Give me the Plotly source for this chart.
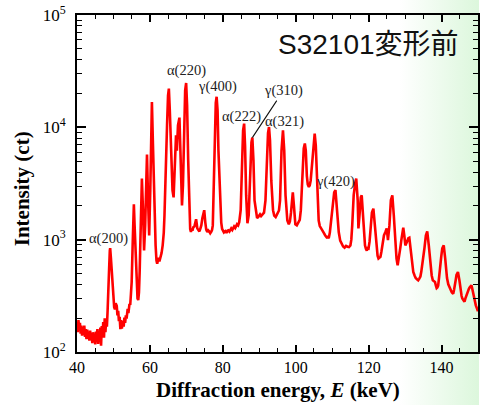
import base64
import math
import plotly.graph_objects as go

# Energy-dispersive diffraction spectrum (energy in keV, intensity in counts)
energy_kev = [
    40.0, 40.2, 40.4, 40.6, 40.8, 41.0, 41.2, 41.4, 41.6, 41.8,
    42.0, 42.2, 42.4, 42.6, 42.8, 43.0, 43.2, 43.4, 43.6, 43.8,
    44.0, 44.2, 44.4, 44.6, 44.8, 45.0, 45.2, 45.4, 45.6, 45.8,
    46.0, 46.2, 46.4, 46.6, 46.8, 47.0, 47.2, 47.4, 47.6, 47.8,
    48.0, 48.2, 48.4, 48.6, 48.8, 49.0, 49.1, 49.3, 49.6, 49.8,
    50.0, 50.2, 50.4, 50.6, 50.9, 51.1, 51.3, 51.5, 51.7, 51.9,
    52.1, 52.3, 52.6, 52.8, 53.0, 53.2, 53.4, 53.6, 53.9, 54.1,
    54.4, 54.6, 54.8, 55.0, 55.3, 55.6, 55.8, 56.1, 56.4, 56.6,
    56.8, 57.0, 57.2, 57.5, 57.8, 58.15, 58.4, 58.7, 59.0, 59.2,
    59.5, 59.8, 60.1, 60.3, 60.55, 60.8, 61.15, 61.56, 61.8, 62.0,
    62.2, 62.4, 62.6, 62.9, 63.2, 63.5, 63.8, 64.0, 64.2, 64.4,
    64.7, 64.97, 65.2, 65.46, 65.8, 66.2, 66.5, 66.75, 67.16, 67.4,
    67.7, 68.1, 68.45, 68.8, 69.07, 69.4, 69.67, 69.94, 70.2, 70.5,
    70.8, 71.05, 71.25, 71.45, 71.66, 71.9, 72.2, 72.45, 72.67, 72.85,
    73.0, 73.3, 73.57, 73.8, 74.1, 74.4, 74.66, 74.9, 75.2, 75.45,
    75.75, 76.0, 76.3, 76.55, 76.85, 77.05, 77.25, 77.5, 77.8, 78.07,
    78.3, 78.56, 78.8, 79.16, 79.57, 79.8, 79.98, 80.3, 80.67, 81.0,
    81.25, 81.5, 81.8, 82.05, 82.3, 82.6, 82.85, 83.1, 83.4, 83.65,
    83.9, 84.2, 84.5, 84.9, 85.3, 85.56, 85.85, 86.1, 86.4, 86.75,
    87.1, 87.5, 87.85, 88.1, 88.4, 88.7, 89.1, 89.4, 89.7, 89.95,
    90.2, 90.5, 90.76, 91.0, 91.3, 91.7, 92.1, 92.4, 92.67, 92.94,
    93.3, 93.77, 94.1, 94.5, 94.8, 95.1, 95.4, 95.7, 96.1, 96.5,
    96.85, 97.2, 97.7, 98.1, 98.4, 98.7, 98.97, 99.2, 99.5, 99.9,
    100.3, 100.6, 100.86, 101.1, 101.4, 101.8, 102.2, 102.5, 102.76, 103.05,
    103.3, 103.6, 103.85, 104.1, 104.5, 104.95, 105.2, 105.5, 105.9, 106.3,
    106.6, 106.9, 107.3, 107.7, 108.1, 108.5, 108.8, 109.05, 109.35, 109.6,
    110.1, 110.55, 110.9, 111.2, 111.5, 111.8, 112.2, 112.7, 113.0, 113.4,
    113.8, 114.2, 114.6, 115.0, 115.25, 115.5, 115.9, 116.3, 116.6, 117.0,
    117.2, 117.5, 117.85, 118.1, 118.4, 118.7, 119.0, 119.25, 119.5, 119.75,
    119.97, 120.25, 120.5, 120.9, 121.3, 121.7, 122.15, 122.45, 122.7, 122.95,
    123.24, 123.5, 123.8, 124.2, 124.6, 124.96, 125.3, 125.7, 126.1, 126.5,
    126.9, 127.3, 127.65, 127.96, 128.2, 128.4, 128.7, 128.97, 129.25, 129.5,
    129.8, 130.07, 130.35, 130.6, 130.9, 131.16, 131.45, 131.7, 132.0, 132.25,
    132.6, 132.9, 133.25, 133.6, 133.9, 134.2, 134.45, 134.7, 135.0, 135.3,
    135.7, 136.07, 136.5, 136.75, 137.0, 137.3, 137.6, 137.9, 138.2, 138.45,
    138.66, 138.85, 139.07, 139.35, 139.6, 139.9, 140.2, 140.6, 141.0, 141.25,
    141.5, 141.85, 142.2, 142.5, 142.8, 143.0, 143.2, 143.45, 143.7, 143.9,
    144.1, 144.5, 144.9, 145.1, 145.3, 145.5, 145.7, 146.0, 146.3, 146.55,
    146.8, 147.05, 147.3, 147.5, 147.7, 147.95, 148.2, 148.4, 148.6, 148.8,
    149.0, 149.2, 149.4, 149.7, 150.0,
]

intensity_ct = [
    175, 150, 192, 158, 182, 146, 172, 140, 166, 148,
    172, 136, 160, 130, 158, 134, 150, 126, 155, 128,
    148, 120, 150, 124, 146, 117, 152, 123, 160, 118,
    150, 126, 165, 114, 170, 138, 185, 134, 200, 150,
    195, 168, 235, 310, 540, 800, 840, 690, 480, 330,
    285, 250, 240, 272, 258, 212, 232, 188, 206, 160,
    192, 162, 188, 168, 202, 182, 212, 198, 242, 222,
    268, 262, 330, 420, 990, 2060, 1340, 650, 354, 300,
    290, 340, 530, 1650, 3500, 1650, 800, 1340, 3700, 5730,
    2240, 1090, 2750, 9400, 16800, 7700, 2240, 890, 650, 610,
    660, 690, 640, 690, 760, 890, 1150, 1650, 2500, 4140,
    10400, 19200, 22100, 14100, 5100, 2750, 2380, 3700, 8500, 6200,
    10400, 12200, 5100, 2020, 3050, 11400, 21300, 24800, 15800, 5100,
    1650, 1240, 1170, 1260, 1200, 1290, 1310, 1420, 1520, 1380,
    1260, 1220, 1185, 1240, 1340, 1560, 1740, 1830, 1420, 1230,
    1170, 1210, 1180, 1140, 1180, 1220, 1340, 3350, 9400, 16500,
    18700, 14100, 6200, 2490, 1420, 1250, 1210, 1160, 1190, 1150,
    1200, 1210, 1180, 1240, 1260, 1220, 1280, 1310, 1270, 1340,
    1370, 1340, 1430, 1830, 5100, 9400, 10800, 6900, 2490, 1400,
    1650, 3700, 7350, 8100, 5100, 2240, 1680, 1560, 1590, 1650,
    1680, 1620, 1650, 1700, 1740, 2240, 5100, 8900, 10070, 7700,
    3350, 1830, 1640, 1590, 1660, 1720, 1820, 2240, 6200, 9400,
    6200, 2490, 1480, 1370, 1450, 1740, 2490, 2640, 2020, 1370,
    1340, 1390, 1420, 1500, 1830, 3700, 6500, 7180, 6200, 3700,
    3100, 2950, 3050, 3350, 5100, 7900, 8800, 6900, 3050, 1480,
    1320, 1260, 1200, 1150, 1090, 1050, 1060, 1030, 1150, 1340,
    2020, 2640, 2760, 2020, 1500, 1170, 980, 890, 870, 850,
    880, 865, 860, 890, 1000, 1340, 2490, 3160, 3500, 2240,
    1260, 1650, 2380, 2480, 1650, 1150, 890, 830, 800, 840,
    835, 960, 1170, 1740, 1890, 1340, 835, 720, 680, 700,
    705, 780, 890, 1090, 1170, 1260, 990, 1340, 2240, 2480,
    1650, 890, 680, 590, 650, 730, 850, 990, 1150, 1280,
    1080, 890, 930, 990, 1030, 1040, 880, 730, 600, 515,
    480, 455, 445, 435, 450, 470, 520, 590, 700, 835,
    1090, 1185, 890, 700, 560, 480, 435, 430, 420, 390,
    370, 375, 390, 470, 590, 700, 835, 890, 680, 550,
    455, 400, 370, 350, 340, 335, 330, 360, 390, 440,
    485, 515, 435, 380, 340, 315, 300, 290, 280, 300,
    320, 340, 355, 365, 375, 385, 393, 370, 340, 320,
    300, 280, 260, 245, 230,
]

# Reflection labels: text, energy (keV), intensity at the label centre (ct)
label_text = ["α(200)", "α(220)", "γ(400)", "α(222)", "α(321)", "γ(420)"]
label_energy = [48.7, 70.0, 78.5, 85.2, 97.0, 111.0]
label_intensity = [1030, 31800, 22900, 12400, 11200, 3270]

# γ(310) is labelled with a leader line to its peak
g310_energy = 88.1
g310_intensity = 8100

x_major = [40, 60, 80, 100, 120, 140]
x_minor = [45, 50, 55, 65, 70, 75, 85, 90, 95, 105, 110, 115, 125, 130, 135, 145, 150]
y_major = [1e2, 1e3, 1e4, 1e5]
y_major_text = ["10<sup>2</sup>", "10<sup>3</sup>", "10<sup>4</sup>", "10<sup>5</sup>"]
y_minor = [m * 10 ** d for d in (2, 3, 4) for m in range(2, 10)]

SERIF = "Liberation Serif, Times New Roman, serif"
SANS = "Liberation Sans, Arial, Noto Sans CJK JP, sans-serif"

W, H = 481, 405
ML, MR, MT, MB = 77, 1, 15, 53
PW, PH = W - ML - MR, H - MT - MB

fig = go.Figure()
fig.add_trace(go.Scatter(
    x=energy_kev, y=intensity_ct, mode="lines",
    line=dict(color="#ff0000", width=2.6), showlegend=False,
    hoverinfo="skip",
))

annotations = []
for t, e, i in zip(label_text, label_energy, label_intensity):
    annotations.append(dict(
        x=e, y=math.log10(i), xref="x", yref="y", text=t, showarrow=False,
        font=dict(family=SERIF, size=14.5, color="#222222"),
    ))
annotations.append(dict(
    x=g310_energy, y=math.log10(g310_intensity), xref="x", yref="y",
    text="γ(310)", showarrow=True, arrowhead=0, arrowwidth=1.1,
    arrowcolor="#111111", ax=31, ay=-47, standoff=0,
    font=dict(family=SERIF, size=14.5, color="#222222"),
))
# Sample name
annotations.append(dict(
    x=(463 - ML) / PW, y=(MT + PH - 45) / PH, xref="paper", yref="paper",
    xanchor="right", yanchor="middle", text="S32101変形前", showarrow=False,
    font=dict(family=SANS, size=28, color="#111111"),
))
# Axis titles
annotations.append(dict(
    x=0.5, y=(MT + PH - 390) / PH, xref="paper", yref="paper",
    xanchor="center", yanchor="middle",
    text="<b>Diffraction energy, <i>E</i> (keV)</b>", showarrow=False,
    font=dict(family=SERIF, size=21, color="#000000"),
))
annotations.append(dict(
    x=(22 - ML) / PW, y=(MT + PH - 189) / PH, xref="paper", yref="paper",
    xanchor="center", yanchor="middle", textangle=-90,
    text="<b>Intensity (ct)</b>", showarrow=False,
    font=dict(family=SERIF, size=21, color="#000000"),
))

# Soft green wash on the right-hand side of the page
svg = (
    '<svg xmlns="http://www.w3.org/2000/svg" width="481" height="405" '
    'preserveAspectRatio="none">'
    '<defs><linearGradient id="g" x1="0" x2="1" y1="0" y2="0">'
    '<stop offset="0" stop-color="#ffffff"/>'
    '<stop offset="0.835" stop-color="#ffffff"/>'
    '<stop offset="1" stop-color="#dcf7dc"/>'
    '</linearGradient></defs>'
    '<rect width="481" height="405" fill="url(#g)"/></svg>'
)
svg_uri = "data:image/svg+xml;base64," + base64.b64encode(svg.encode()).decode()

fig.update_layout(
    width=W, height=H,
    margin=dict(l=ML, r=MR, t=MT, b=MB, pad=0),
    paper_bgcolor="#ffffff", plot_bgcolor="rgba(0,0,0,0)",
    annotations=annotations,
    images=[dict(
        source=svg_uri, xref="paper", yref="paper",
        x=-ML / PW, y=1 + MT / PH, sizex=W / PW, sizey=H / PH,
        xanchor="left", yanchor="top", sizing="stretch", layer="below",
    )],
    xaxis=dict(
        range=[40, 150], tickmode="array", tickvals=x_major,
        ticks="inside", ticklen=7, tickwidth=1.5, tickcolor="#000",
        showline=True, linewidth=2, linecolor="#000", mirror="ticks",
        showgrid=False, zeroline=False,
        tickfont=dict(family=SERIF, size=16, color="#000"),
        minor=dict(tickmode="array", tickvals=x_minor, ticks="inside",
                   ticklen=4, tickwidth=1.2, tickcolor="#000", showgrid=False),
    ),
    yaxis=dict(
        type="log", range=[2, 5], tickmode="array", tickvals=y_major,
        ticktext=y_major_text,
        ticks="inside", ticklen=9, tickwidth=1.5, tickcolor="#000",
        showline=True, linewidth=2, linecolor="#000", mirror="ticks",
        showgrid=False, zeroline=False, ticklabelstandoff=6,
        tickfont=dict(family=SERIF, size=17, color="#000"),
        minor=dict(tickmode="array", tickvals=y_minor, ticks="inside",
                   ticklen=5, tickwidth=1.2, tickcolor="#000", showgrid=False),
    ),
)

fig.write_html("out.html")
